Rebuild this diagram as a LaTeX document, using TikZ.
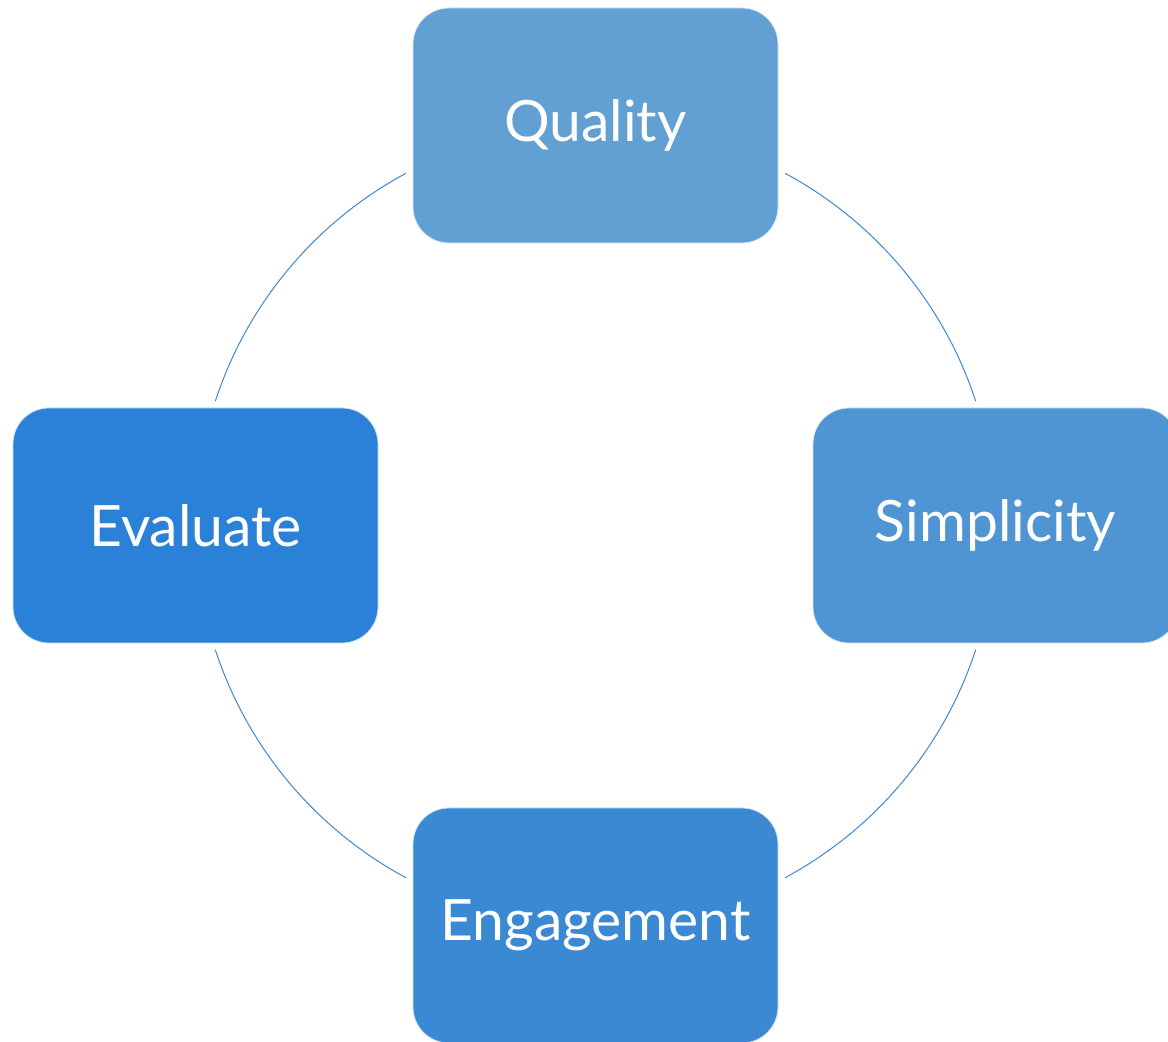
\documentclass[tikz,border=0pt]{standalone}
\usepackage{fontspec}
\setmainfont{Lato}
\definecolor{cq}{HTML}{629FD2}
\definecolor{cs}{HTML}{5095D3}
\definecolor{ceng}{HTML}{3C89D3}
\definecolor{cev}{HTML}{2B80D7}
\definecolor{carc}{HTML}{3F88D0}
\tikzset{
  box/.style={rectangle, rounded corners=36pt, minimum width=365pt, minimum height=235pt,
    draw=white!75!#1, line width=0.8pt, fill=#1, text=white, inner sep=0pt,
    font=\fontsize{57}{66}\selectfont},
  arcline/.style={draw=carc, line width=1pt}
}
\begin{document}
\begin{tikzpicture}[x=1pt,y=1pt]
\clip (0,0) rectangle (1168,1042);
\useasboundingbox (0,0) rectangle (1168,1042);
\fill[white] (0,0) rectangle (1168,1042);
\coordinate (c) at (595.5,516.5);
\node[box=cq]   (q)   at (595.5,916.5) {\raisebox{-2pt}{Quality}};
\node[box=cs]   (s)   at (995.5,516.5) {\raisebox{-2pt}{Simplicity}};
\node[box=ceng] (eng) at (595.5,116.5) {\raisebox{-2pt}{Engagement}};
\node[box=cev]  (ev)  at (195.5,516.5) {\raisebox{-2pt}{Evaluate}};
\draw[arcline] (c) ++(61.7:400) arc[start angle=61.7, end angle=18.1, radius=400];
\draw[arcline] (c) ++(-18.1:400) arc[start angle=-18.1, end angle=-61.7, radius=400];
\draw[arcline] (c) ++(241.7:400) arc[start angle=241.7, end angle=198.1, radius=400];
\draw[arcline] (c) ++(161.9:400) arc[start angle=161.9, end angle=118.3, radius=400];
\end{tikzpicture}
\end{document}
